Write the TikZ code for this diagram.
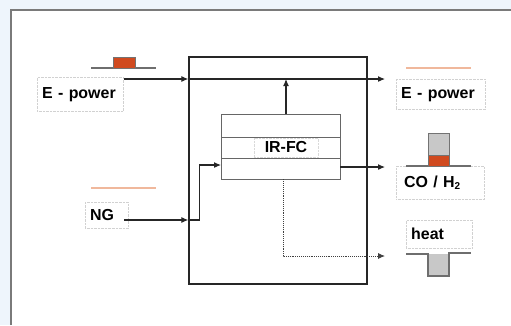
\documentclass[tikz,border=0pt]{standalone}
\usepackage{fontspec}
\setmainfont{Liberation Sans}
\usetikzlibrary{arrows.meta, positioning, calc}
\definecolor{bgblue}{RGB}{238,245,252}
\definecolor{framegray}{RGB}{122,122,122}
\definecolor{fcorange}{RGB}{208,74,31}
\definecolor{peach}{RGB}{240,184,156}
\definecolor{icongray}{RGB}{110,110,110}
\definecolor{fillgray}{RGB}{200,200,200}

\begin{document}
\begin{tikzpicture}[
      x=1bp, y=-1bp,
      lbl/.style={rectangle, draw=black!18, densely dotted, line width=0.4pt,
                  font=\bfseries\fontsize{16}{18}\selectfont, align=left,
                  inner xsep=5bp, anchor=north west},
      unit/.style={rectangle, draw=black!85, line width=1.4pt},
      arr/.style={-{Latex[length=7bp,width=6bp]}, line width=1.1pt, draw=black!85},
      dotarr/.style={-{Latex[length=7bp,width=6bp]}, densely dotted, line width=0.9pt, draw=black!75},
      icon/.style={draw=icongray, line width=1.3pt}
    ]
    \useasboundingbox (0,0) rectangle (511,325);
    % frame
    \fill[bgblue] (0,0) rectangle (511,325);
    \fill[white] (11,10) rectangle (511,325);
    \draw[framegray, line width=1.5pt] (11,325) -- (11,10) -- (511,10);

    % plant and fuel cell
    \node[unit, minimum width=178bp, minimum height=227bp] (plant) at (278,170.5) {};
    \node[rectangle, draw=black!60, line width=0.8pt, minimum width=119bp, minimum height=65bp] (fc) at (280.5,146.5) {};
    \draw[black!60, line width=0.8pt] (221,137) -- (340,137);
    \draw[black!60, line width=0.8pt] (221,158) -- (340,158);
    \node[rectangle, fill=white, draw=black!15, densely dotted, minimum width=64bp, minimum height=19.5bp,
          font=\bfseries\fontsize{16}{18}\selectfont] (irfc) at (286,147.5) {IR-FC};

    % labels
    \node[lbl, text width=76bp, minimum height=34bp] (epin) at (37,77) {E - power};
    \node[lbl, text width=79bp, minimum height=30bp] (epout) at (396,79) {E - power};
    \node[lbl, text width=72bp, minimum height=33bp, inner xsep=8bp] (coh) at (396,166)
      {CO / H\raisebox{-0.3ex}{\fontsize{10}{10}\selectfont 2}};
    \node[lbl, text width=33bp, minimum height=26bp] (ng) at (85,202) {NG};
    \node[lbl, text width=56bp, minimum height=28bp] (heat) at (406,220) {heat};

    % icons
    \draw[icon] (91,68) -- (156,68);
    \filldraw[fill=fcorange, draw=black!55, line width=0.8pt] (113,57) rectangle (135,68);
    \draw[peach, line width=2pt] (406,68) -- (471,68);
    \draw[icon] (406,166) -- (471,166);
    \filldraw[fill=fillgray, draw=black!55, line width=0.8pt] (428,133) rectangle (449,155);
    \filldraw[fill=fcorange, draw=black!55, line width=0.8pt] (428,155) rectangle (449,166);
    \draw[peach, line width=2pt] (91,188) -- (156,188);
    \fill[fillgray] (428,254) rectangle (449,276);
    \draw[icon] (406,254) -- (428,254) -- (428,276) -- (449,276) -- (449,253) -- (471,253);

    % connectors
    \coordinate (ein) at (124,79);
    \coordinate (eout) at (385,79);
    \coordinate (ngin) at (124,220);
    \coordinate (fcin) at (221,165);
    \coordinate (coout) at (385,167);
    \coordinate (hout) at (385,256);
    \draw[arr] (ein) -- (ein -| plant.west);
    \draw[arr] (ein -| plant.west) -- (eout);
    \draw[arr] ([xshift=5.5bp]fc.north) -- ([xshift=5.5bp]fc.north |- eout);
    \draw[arr] (fc.east |- coout) -- (coout);
    \draw[arr] (ngin) -- (ngin -| plant.west);
    \draw[arr] (ngin -| plant.west) -- ++(11,0) |- (fcin);
    \draw[dotarr] ([xshift=2.5bp]fc.south) |- (hout);
  \end{tikzpicture}
\end{document}
